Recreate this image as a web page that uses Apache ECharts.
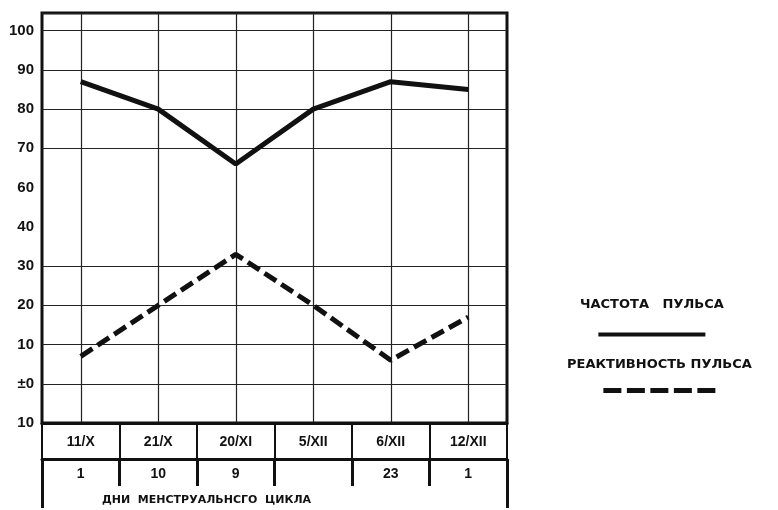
<!DOCTYPE html>
<html><head><meta charset="utf-8">
<script src="https://cdn.jsdelivr.net/npm/echarts@6/dist/echarts.min.js"></script>
<style>html,body{margin:0;padding:0;background:#fff}#c{width:778px;height:510px}</style>
</head><body><div id="c"></div>
<script>
// ---- data ----
const dates = ['11/X', '21/X', '20/XI', '5/XII', '6/XII', '12/XII'];
const cycleDays = ['1', '10', '9', '', '23', '1'];
const pulseRate = [87, 80, 66, 80, 87, 85];
const pulseReactivity = [7, 20, 33, 20, 6, 17];
const yTickValues = [-10, 0, 10, 20, 30, 40, 60, 70, 80, 90, 100];
const yTickLabels = ['10', '±0', '10', '20', '30', '40', '60', '70', '80', '90', '100'];
const seriesNames = ['ЧАСТОТА   ПУЛЬСА', 'РЕАКТИВНОСТЬ ПУЛЬСА'];
const footerText = 'ДНИ  МЕНСТРУАЛЬНСГО  ЦИКЛА';

const ink = '#111';
const chart = echarts.init(document.getElementById('c'));
chart.setOption({
  animation: false,
  backgroundColor: '#fff',
  title: {
    text: footerText, left: 97, top: 490,
    textStyle: { fontSize: 11, fontWeight: 'bold', fontFamily: 'DejaVu Sans', color: ink }
  },
  legend: [
    {
      data: [seriesNames[0]], left: 570, top: 293, icon: 'none', itemWidth: 0, itemGap: 0,
      selectedMode: false,
      formatter: n => '{t|' + n + '}\n{s|}',
      textStyle: {
        rich: {
          t: { fontSize: 13, fontWeight: 'bold', fontFamily: 'DejaVu Sans', color: ink, align: 'center', lineHeight: 44 },
          s: { width: 107, height: 4, backgroundColor: ink, align: 'center', lineHeight: 16 }
        }
      }
    },
    {
      data: [seriesNames[1]], left: 557, top: 353, icon: 'none', itemWidth: 0, itemGap: 0,
      selectedMode: false,
      formatter: n => '{t|' + n + '}\n{d|}{g|}{d|}{g|}{d|}{g|}{d|}{g|}{d|}',
      textStyle: {
        rich: {
          t: { fontSize: 13, fontWeight: 'bold', fontFamily: 'DejaVu Sans', color: ink, align: 'center', lineHeight: 36 },
          d: { width: 18, height: 5, backgroundColor: ink, align: 'center', lineHeight: 16 },
          g: { width: 5.5, height: 5, align: 'center', lineHeight: 16 }
        }
      }
    }
  ],
  grid: {
    left: 42, right: 271, top: 13, bottom: 87,
    show: true, borderColor: ink, borderWidth: 3, backgroundColor: 'transparent',
    outerBoundsMode: 'none'
  },
  xAxis: [
    {
      type: 'category', data: dates, position: 'bottom', boundaryGap: true,
      axisLine: { show: true, onZero: false, lineStyle: { color: ink, width: 3 } },
      axisTick: { show: true, inside: false, length: 36, lineStyle: { color: ink, width: 2 } },
      axisLabel: { interval: 0, margin: 12, fontSize: 14, fontWeight: 'bold', fontFamily: 'Liberation Sans', color: ink },
      splitLine: { show: true, alignWithLabel: true, interval: 0, lineStyle: { color: '#222', width: 1.2 } }
    },
    {
      type: 'category', data: cycleDays, position: 'bottom', offset: 36, boundaryGap: true,
      axisLine: { show: true, onZero: false, lineStyle: { color: ink, width: 3 } },
      axisTick: { show: true, inside: false, interval: 0, length: 27, lineStyle: { color: ink, width: 3 } },
      axisLabel: { interval: 0, margin: 8, fontSize: 14, fontWeight: 'bold', fontFamily: 'Liberation Sans', color: ink },
      splitLine: { show: false }
    },
    {
      type: 'category', data: dates, position: 'bottom', offset: 63, boundaryGap: true,
      axisLine: { show: false, onZero: false },
      axisTick: { show: true, inside: false, interval: (i) => i === 0, length: 22, lineStyle: { color: ink, width: 3 } },
      axisLabel: { show: false },
      splitLine: { show: false }
    }
  ],
  yAxis: {
    type: 'value', min: -10, max: 104.5, interval: 10,
    breaks: [{ start: 40, end: 60, gap: 10 }],
    breakArea: { show: false },
    axisLine: { show: false },
    axisTick: { show: false },
    axisLabel: {
      margin: 8, fontSize: 15, fontWeight: 'bold', fontFamily: 'Liberation Sans', color: ink,
      formatter: v => { const i = yTickValues.indexOf(v); return i < 0 ? '' : yTickLabels[i]; }
    },
    splitLine: { show: true, lineStyle: { color: '#222', width: 1.2 } }
  },
  series: [
    {
      name: seriesNames[0], type: 'line', data: pulseRate, xAxisIndex: 0,
      showSymbol: false, symbol: 'none', silent: true,
      lineStyle: { color: ink, width: 5 }
    },
    {
      name: seriesNames[1], type: 'line', data: pulseReactivity, xAxisIndex: 0,
      showSymbol: false, symbol: 'none', silent: true,
      lineStyle: { color: ink, width: 5, type: [14, 6] }
    }
  ]
});
</script></body></html>
